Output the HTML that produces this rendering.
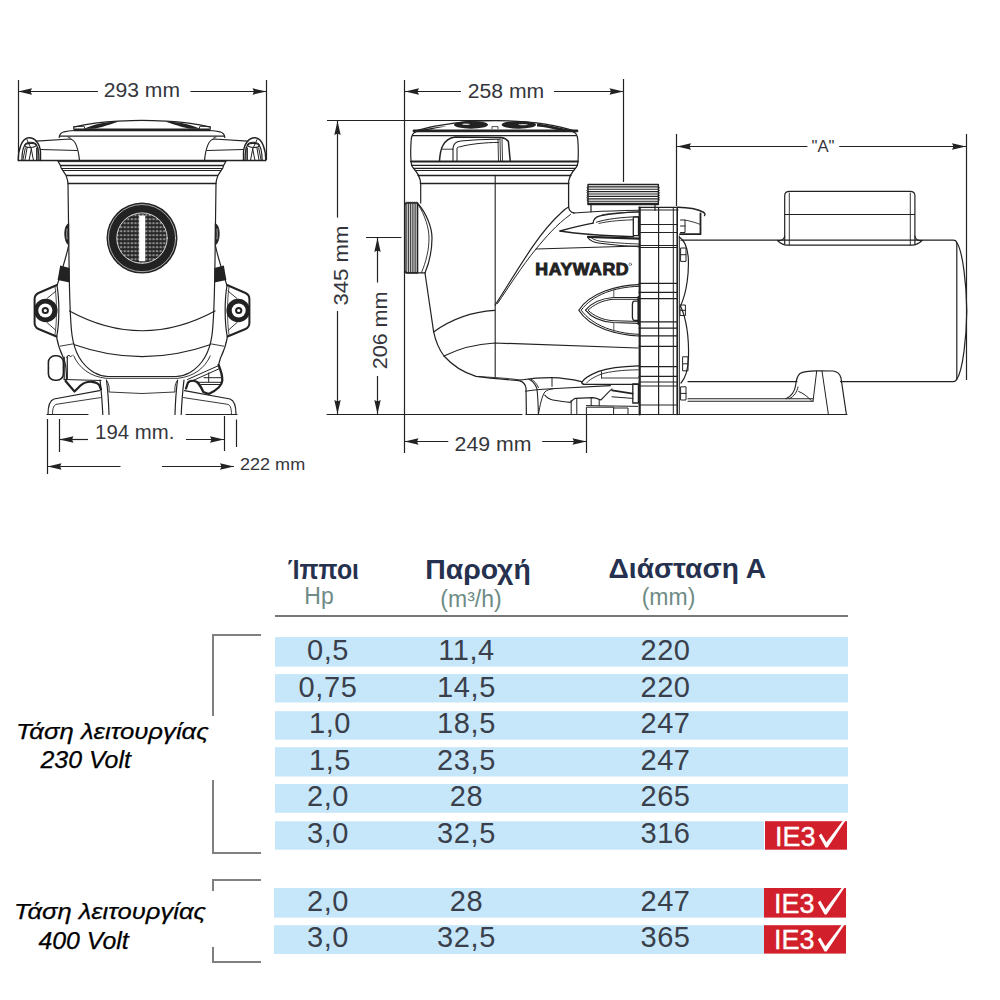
<!DOCTYPE html>
<html><head><meta charset="utf-8">
<style>
html,body{margin:0;padding:0;background:#fff;}
body{width:1000px;height:1000px;overflow:hidden;position:relative;font-family:"Liberation Sans",sans-serif;}
svg{position:absolute;left:0;top:0;}
</style></head>
<body>
<svg width="1000" height="1000" viewBox="0 0 1000 1000" font-family="Liberation Sans, sans-serif">
<defs>
  <!-- arrowheads: tip at 0,0 pointing left -->
  <path id="arL" d="M0,0 L14,-3.2 L12.5,0 L14,3.2 Z" fill="#222"/>
  <pattern id="mesh" x="0.5" y="1.2" width="3.6" height="4" patternUnits="userSpaceOnUse">
    <rect width="3.6" height="4" fill="#262626"/><circle cx="1.8" cy="2" r="0.8" fill="#fff"/><circle cx="0" cy="2" r="0.45" fill="#ddd"/><circle cx="3.6" cy="2" r="0.45" fill="#ddd"/>
  </pattern>
</defs>

<!-- ================= TABLE ================= -->
<g id="table">
  <line x1="275" y1="616" x2="848" y2="616" stroke="#777" stroke-width="2"/>
  <g fill="#c6e7fa">
    <rect x="275" y="637.1" width="573" height="29.5"/>
    <rect x="275" y="674.1" width="573" height="28.4"/>
    <rect x="275" y="711.2" width="573" height="28.5"/>
    <rect x="275" y="747.2" width="573" height="29.3"/>
    <rect x="275" y="784" width="573" height="28.8"/>
    <rect x="275" y="821.3" width="489" height="28.4"/>
    <rect x="274" y="888" width="490" height="29.6"/>
    <rect x="274" y="925.2" width="490" height="28.8"/>
  </g>
  <g fill="#d21f2c">
    <rect x="765" y="821.2" width="82" height="28.5"/>
    <rect x="764" y="888" width="82" height="29.6"/>
    <rect x="764" y="925.2" width="82" height="28.4"/>
  </g>
  <!-- brackets -->
  <g stroke="#808080" stroke-width="2" fill="none">
    <path d="M261,635 H213 V716"/>
    <path d="M213,780 V853 H261"/>
    <path d="M261,880 H213 V891"/>
    <path d="M213,947 V962 H261"/>
  </g>
  <!-- headers -->
  <g fill="#25314e" font-weight="bold" font-size="27">
    <text x="323.4" y="579" text-anchor="middle" textLength="71.2" lengthAdjust="spacingAndGlyphs">Ίπποι</text>
    <text x="478" y="578.5" text-anchor="middle" textLength="105.6" lengthAdjust="spacingAndGlyphs">Παροχή</text>
    <text x="687.3" y="578" text-anchor="middle" textLength="157.5" lengthAdjust="spacingAndGlyphs">Διάσταση  Α</text>
  </g>
  <g fill="#6e8b85" font-size="23">
    <text x="319" y="603.5" text-anchor="middle">Hp</text>
    <text x="471" y="607.3" text-anchor="middle">(m³/h)</text>
    <text x="668.5" y="605" text-anchor="middle">(mm)</text>
  </g>
  <!-- numbers -->
  <g fill="#3a404b" font-size="29" text-anchor="middle" letter-spacing="0.6">
    <text x="328" y="660">0,5</text><text x="466.5" y="660">11,4</text><text x="665.5" y="660">220</text>
    <text x="328" y="696.7">0,75</text><text x="466.5" y="696.7">14,5</text><text x="665.5" y="696.7">220</text>
    <text x="330" y="733">1,0</text><text x="466.5" y="733">18,5</text><text x="665.5" y="733">247</text>
    <text x="330" y="769.8">1,5</text><text x="466.5" y="769.8">23,5</text><text x="665.5" y="769.8">247</text>
    <text x="328" y="805.8">2,0</text><text x="466.5" y="805.8">28</text><text x="665.5" y="805.8">265</text>
    <text x="328" y="842.6">3,0</text><text x="466.5" y="842.6">32,5</text><text x="665.5" y="842.6">316</text>
    <text x="328" y="910.5">2,0</text><text x="466.5" y="910.5">28</text><text x="665.5" y="910.5">247</text>
    <text x="328" y="947">3,0</text><text x="466.5" y="947">32,5</text><text x="665.5" y="947">365</text>
  </g>
  <!-- IE3 badges -->
  <g fill="#fff" font-size="27" stroke="#fff" stroke-width="0.35">
    <text x="775" y="845.5">IE3</text>
    <text x="774" y="912.5">IE3</text>
    <text x="774" y="949">IE3</text>
  </g>
  <g fill="#fff">
    <path id="chk" d="M818.8,835.6 L821.2,833.6 L826.4,842.3 L842.6,821 L845.2,821 L827.6,847.6 L825.6,847.6 Z"/>
    <use href="#chk" transform="translate(-1,67)"/>
    <use href="#chk" transform="translate(-1,104)"/>
  </g>
  <!-- voltage labels -->
  <g fill="#000" font-style="italic" font-size="23" stroke="#000" stroke-width="0.25">
    <text x="16" y="739.2" textLength="192.8" lengthAdjust="spacingAndGlyphs">Τάση λειτουργίας</text>
    <text x="40.5" y="768.3" textLength="90.4" lengthAdjust="spacingAndGlyphs">230 Volt</text>
    <text x="14.1" y="919.2" textLength="191.9" lengthAdjust="spacingAndGlyphs">Τάση λειτουργίας</text>
    <text x="38.4" y="948.8" textLength="90.3" lengthAdjust="spacingAndGlyphs">400 Volt</text>
  </g>
</g>

<!-- ================= DIMENSIONS ================= -->
<g id="dims" stroke="#222" stroke-width="1.2" fill="none">
  <!-- 293 -->
  <line x1="18.5" y1="80" x2="18.5" y2="160"/>
  <line x1="266.5" y1="80" x2="266.5" y2="160"/>
  <line x1="18.5" y1="91.5" x2="98" y2="91.5"/>
  <line x1="190.5" y1="91.5" x2="266.5" y2="91.5"/>
  <!-- 194 / 222 -->
  <line x1="47.5" y1="419" x2="47.5" y2="474"/>
  <line x1="59.5" y1="419" x2="59.5" y2="452"/>
  <line x1="224.5" y1="416" x2="224.5" y2="451"/>
  <line x1="236.5" y1="419.5" x2="236.5" y2="447"/>
  <line x1="59.5" y1="439.5" x2="88" y2="439.5"/>
  <line x1="186" y1="439.5" x2="224.5" y2="439.5"/>
  <line x1="47.5" y1="466.5" x2="120.5" y2="466.5"/>
  <line x1="162" y1="466.5" x2="234" y2="466.5"/>
  <!-- 258 -->
  <line x1="404.5" y1="80" x2="404.5" y2="453"/>
  <line x1="623.5" y1="79" x2="623.5" y2="182"/>
  <line x1="404.5" y1="91.5" x2="461" y2="91.5"/>
  <line x1="554" y1="91.5" x2="623.5" y2="91.5"/>
  <!-- 345 / 206 -->
  <line x1="327" y1="120.5" x2="500" y2="120.5"/>
  <line x1="337.5" y1="120.5" x2="337.5" y2="217.6"/>
  <line x1="337.5" y1="311" x2="337.5" y2="414.5"/>
  <line x1="366" y1="237.5" x2="401.4" y2="237.5"/>
  <line x1="377.5" y1="237.5" x2="377.5" y2="282.5"/>
  <line x1="377.5" y1="376" x2="377.5" y2="414.5"/>
  <line x1="326.6" y1="414.5" x2="522.4" y2="414.5"/>
  <!-- 249 -->
  <line x1="586.5" y1="414.5" x2="586.5" y2="453"/>
  <line x1="404.5" y1="441.5" x2="448.3" y2="441.5"/>
  <line x1="542.2" y1="441.5" x2="586.5" y2="441.5"/>
  <!-- A -->
  <line x1="676.5" y1="134" x2="676.5" y2="206"/>
  <line x1="966.5" y1="134" x2="966.5" y2="380"/>
  <line x1="676.5" y1="146.5" x2="807.4" y2="146.5"/>
  <line x1="839.2" y1="146.5" x2="966.5" y2="146.5"/>
</g>
<g id="arrows">
  <use href="#arL" transform="translate(18,91.5)"/>
  <use href="#arL" transform="translate(266.5,91.5) scale(-1,1)"/>
  <use href="#arL" transform="translate(59.5,439.5)"/>
  <use href="#arL" transform="translate(224,439.5) scale(-1,1)"/>
  <use href="#arL" transform="translate(47.5,466.5)"/>
  <use href="#arL" transform="translate(234,466.5) scale(-1,1)"/>
  <use href="#arL" transform="translate(405,91.5)"/>
  <use href="#arL" transform="translate(623.5,91.5) scale(-1,1)"/>
  <use href="#arL" transform="translate(337.5,121) rotate(90)"/>
  <use href="#arL" transform="translate(337.5,414) rotate(-90)"/>
  <use href="#arL" transform="translate(377.5,238) rotate(90)"/>
  <use href="#arL" transform="translate(377.5,414) rotate(-90)"/>
  <use href="#arL" transform="translate(404.5,441.5)"/>
  <use href="#arL" transform="translate(586.5,441.5) scale(-1,1)"/>
  <use href="#arL" transform="translate(677,146.5)"/>
  <use href="#arL" transform="translate(966,146.5) scale(-1,1)"/>
</g>
<g id="dimtext" fill="#34363c" font-size="19.5">
  <text x="141.9" y="96.9" text-anchor="middle" textLength="76.2" lengthAdjust="spacingAndGlyphs">293 mm</text>
  <text x="506" y="97.6" text-anchor="middle" textLength="76.5" lengthAdjust="spacingAndGlyphs">258 mm</text>
  <text x="134.7" y="439.2" text-anchor="middle" textLength="79.2" lengthAdjust="spacingAndGlyphs">194 mm.</text>
  <text x="493" y="450.5" text-anchor="middle" textLength="76.9" lengthAdjust="spacingAndGlyphs">249 mm</text>
  <text x="240" y="469.8" font-size="15.6" textLength="65.2" lengthAdjust="spacingAndGlyphs">222 mm</text>
  <text x="823" y="152.4" text-anchor="middle" font-size="16" textLength="23" lengthAdjust="spacingAndGlyphs">"A"</text>
  <text transform="translate(348.2,265.5) rotate(-90)" text-anchor="middle" textLength="80.2" lengthAdjust="spacingAndGlyphs">345 mm</text>
  <text transform="translate(386.8,330.4) rotate(-90)" text-anchor="middle" textLength="77.8" lengthAdjust="spacingAndGlyphs">206 mm</text>
</g>

<!-- DRAWINGS to be added -->
<g id="draw" stroke="#222" stroke-width="1.2" fill="none" stroke-linejoin="round" stroke-linecap="round">
<!-- LEFT (front) VIEW, center x=142 -->
<g id="lvHalf">
  <!-- ear -->
  <path d="M18.2,160.5 C18.2,150 21.5,138.5 28.6,137.8 C35,137.3 40,144 40.5,152 L40.5,160.5" stroke-width="1.4"/>
  <path d="M21.8,160.5 C22,152 23,146 26,143.5 C28.5,141.8 33,141.8 35.5,143.5 C38,146 39,152 39,160.5" stroke-width="1.2"/>
  <path d="M24.5,145.5 C26,143 34,142.5 36.5,145 C35,148 26,148.5 24.5,145.5 Z" stroke-width="1.1"/>
  <path d="M22.8,160.5 L25.3,148 M24.9,160.5 L27,148.3 M29,160.5 L31.3,149 M33.5,160.5 L31.3,149 M26.9,139.5 L31.3,149 M36.6,160.5 L36.6,148 M37.9,160.5 L37.9,147.5" stroke-width="1"/>
  <!-- arm -->
  <path d="M36.1,141.2 L70,139 C75,139.5 78,146 79.5,160.5"/>
  <path d="M40.5,149.5 L77,150.5"/>
  <!-- lid -->
  <path d="M59.2,137.5 C59.4,134.5 60.8,132.8 64,131.8 C67,131 70.5,130.6 74,130.5"/>
  <path d="M59.2,136.2 L142,136.2" stroke-linecap="butt"/>
  <path d="M68,137 C70,137.5 71,138.3 71.5,139.3" stroke-width="0.9"/>
  <!-- dome -->
  <path d="M73.5,127.2 C85,124.5 100,122 118,121.2 C128,120.6 136,120.3 142,120.3" stroke-linecap="butt"/>
  <path d="M73.5,129.9 L142,129.9" stroke-width="2.8" stroke-linecap="butt"/>
  <path d="M84,128.8 C90,126 99,123.4 108,122.3 C112,121.9 116,121.6 119,121.6 C114,123.3 108,125.2 102,127 C97,128.3 93,128.8 90,128.8 Z" fill="#222" stroke="none"/>
  <path d="M73.7,128.6 L73.7,126.6 L84,126.2 L85,128.6" stroke-width="1"/>
  <!-- ring -->
  <path d="M18,160.5 L142,160.5" stroke-linecap="butt" stroke-width="1.3"/>
  <path d="M58,161.6 L142,161.6" stroke-linecap="butt" stroke-width="1"/>
  <path d="M58,161.3 L60.5,165.6 L61.2,168.2 L62.8,170.4 L66,175.4 C67,178 67.8,180.5 68,183.4"/>
  <path d="M60.5,165.5 L142,165.5" stroke-linecap="butt" stroke-width="1.3"/>
  <path d="M61.2,168.5 L142,168.5" stroke-linecap="butt" stroke-width="1.2"/>
  <path d="M62.8,170.5 L142,170.5" stroke-linecap="butt" stroke-width="1.1"/>
  <path d="M66,175.5 L142,175.5" stroke-linecap="butt" stroke-width="1.3"/>
  <path d="M67.6,183.5 L142,183.5" stroke-width="1.5" stroke-linecap="butt"/>
  <!-- body edge -->
  <path d="M68,183.4 L69,260 C69.5,300 70,320 72,335 C74,350 80,364 94,372.5 C99,375.3 103.5,376.3 108,376.5 L142,376.5" stroke-linecap="butt"/>
  <path d="M73.6,355.5 C79,368 90,376.5 106,378.3 L142,378.3" stroke-width="0.9" stroke-linecap="butt"/>
  <!-- side bump & flank -->
  <path d="M68.4,223.5 C65.2,225.5 64.6,231 64.8,235 C65,239.5 66.2,243 68.4,245 Z" fill="#222" stroke-width="0.8"/>
  <path d="M67,229 C66.6,232 66.6,236 67,239" stroke="#fff" stroke-width="0.6"/>
  <path d="M68.5,246 C66,258 62,270 57.2,285"/>
  <path d="M60.2,265.5 L69.6,268 L69.6,282.6 L57.6,280 Z" fill="#222" stroke="none"/>
  <!-- bracket -->
  <path d="M57,285 L38.5,293 C35.8,294.3 34.6,296 34.6,299 L34.6,323 C34.6,326 35.8,327.7 38.5,329 L56.5,336.5" stroke-width="2"/>
  <path d="M57,285.5 C59.5,300 59.5,322 56.8,336.2"/>
  <path d="M55,287 C57,300 57,322 55,334.5" stroke-width="0.8"/>
  <path d="M47,298.5 L56,291" stroke-width="0.9"/>
  <path d="M47,322.5 L56,330.5" stroke-width="0.9"/>
  <circle cx="45.8" cy="310.5" r="11.8" fill="#222" stroke="none"/>
  <circle cx="45.3" cy="310.5" r="7" fill="#fff" stroke="none"/>
  <circle cx="45.3" cy="310.5" r="3.6" fill="#222" stroke="none"/>
  <circle cx="45.3" cy="310.5" r="1.6" fill="#fff" stroke="none"/>
  <!-- flank below bracket -->
  <path d="M60,346.2 L73.5,343.8" stroke-width="0.9"/>
  <!-- skirt / legs / feet -->
  <path d="M100,380 C101.5,392 102.3,404 102.8,414.5"/>
  <path d="M106.5,380 C108,392 108.7,404 109,414.5"/>
  <path d="M107,381 C109,384 109.5,388 109,392 L142,393.5" stroke-width="0.9" stroke-linecap="butt"/>
  <path d="M48,414.5 C48,406 49.5,400.5 54,399 L99.5,390.6"/>
  <path d="M52.5,414.5 C52.5,407.5 54,404.5 57,404.2 L100.5,397.6" stroke-width="0.9"/>
  <path d="M47,414.5 L88,414.5"/>
  <!-- dark base brackets -->
</g>
<use href="#lvHalf" transform="translate(284,0) scale(-1,1)"/>
<!-- left-only lower details -->
<path d="M56.5,336.5 C58,346 61,353 63.5,358 C65.5,362 66.5,370 66.5,380"/>
<path d="M65.5,381 L74.5,391.5 L80.5,385.5 C84,382.5 88,381.5 92,381.8 C96,382.2 98.5,383.5 99.5,385.5 L101,389.5" stroke-width="2.2"/>
<path d="M64,379.5 L101,380.5" stroke-width="1.1"/>
<!-- right-only lower details -->
<path d="M227.5,336.5 C226,346 223,353 220.5,358 C219.6,361 219,363 218.6,365"/>
<path d="M218.6,365 C220.6,370 222.6,375 222.3,380.5 C222,385.5 216,390.5 208.7,394 L203.3,392 C201.5,388 200,384.5 197,382 C194,380.5 190,380.5 188,382.5 L186,388.5" stroke-width="2.3"/>
<path d="M187.5,379.5 L217.7,366 M189,382.3 L218.6,369" stroke-width="1"/>
<path d="M204,377.7 L221.5,377.7 M199,382.3 L222,382.3 M201,384.5 L221.5,384.5" stroke-width="1"/>
<path d="M208.7,373 L208.7,382" stroke-width="1"/>
<path d="M186,414.5 L197,414.5"/>
<!-- drain plug (left only) -->
<rect x="48.4" y="355.8" width="15" height="24.5" rx="6.5" ry="6.5" stroke-width="1.6"/>
<path d="M64.2,357 L64.2,379.5 M67.3,356 L67.3,379"/>
<path d="M66.5,357.5 L69,355 L70.5,357 L72.5,355" stroke-width="0.9"/>
<!-- arcs -->
<path d="M69.5,311 Q142,350.5 215,311"/>
<path d="M74.5,344.7 Q142,368.5 210,344.7"/>
<!-- strainer window -->
<circle cx="142" cy="238.1" r="35.5" fill="#222" stroke="none"/>
<circle cx="142" cy="238.1" r="33.6" stroke="#fff" stroke-width="0.6"/>
<circle cx="142" cy="238.1" r="25.2" fill="url(#mesh)" stroke="#fff" stroke-width="0.8"/>
<path d="M139.2,215.8 L145,215.8 L145,261 L139.2,261 Z" fill="#fff" stroke="#fff" stroke-width="0.6" stroke-dasharray="1,1"/>

<!-- SIDE VIEW -->
<!-- lid dome -->
<path d="M417.3,130.4 C440,124 468,120.6 495,120.6 C524,120.6 554,124 576.5,131.5"/>
<path d="M419,130.3 C428,128.5 437,127 447,126 C440,127.6 432,129.2 426,130.3 Z" fill="#222" stroke="none"/>
<ellipse cx="471" cy="124.8" rx="17" ry="3.9" fill="#222" stroke="none"/>
<ellipse cx="518.8" cy="124.8" rx="17.2" ry="3.9" fill="#222" stroke="none"/>
<ellipse cx="466" cy="124.3" rx="4" ry="0.7" fill="#fff" stroke="none" opacity="0.8"/>
<ellipse cx="523" cy="124.6" rx="5" ry="0.7" fill="#fff" stroke="none" opacity="0.8"/>
<path d="M537,123.5 C548,125 560,127.5 574,130.8 L560,130.8 C552,128.5 545,127 537,126.5 Z" fill="#222" stroke="none"/>
<path d="M492,128.6 L492,126.6 L498,126.6 L498,128.6" stroke-width="0.8"/>
<path d="M414,130.9 L577,130.9" stroke-width="2.8"/>
<!-- lid body -->
<path d="M416,131.8 C413,132.4 411.6,134.5 411.2,140 C410.6,148 410.6,156 411,161 C411.3,164.5 412,167 413.5,168.3 L415.4,170.5"/>
<path d="M573,131.8 C576,132.4 577.4,134.5 577.8,140 C578.4,148 578.4,156 578,161 C577.7,164.5 577,167 575.5,168.3 L573.6,170.5"/>
<path d="M412.5,135.6 L576.5,135.6"/>
<path d="M411,161.5 L578,161.5" stroke-width="1.8"/>
<path d="M411.5,165.4 L577.5,165.4" stroke-width="1.2"/>
<path d="M413.5,168.4 L575.5,168.4" stroke-width="1.2"/>
<!-- handle -->
<path d="M439.5,160.6 C440,154 441,149 442.6,146 C445,141 449,137.8 455.2,137 L501.2,137.5 C504.5,138 507,139.5 508.4,141.5 L510.2,160.6" stroke-width="1.5"/>
<path d="M453,160.6 L453,148 C453.5,144 456,141.5 460.6,141 C475,139.5 488,139.2 499.4,139.3" stroke-width="1.1"/>
<path d="M457,160.6 L457,148 C458,147 459,146.9 460,146.8 C470,144 485,142.5 498.5,142.4" stroke-width="1"/>
<path d="M442.4,149.2 L453,149.2" stroke-width="0.9"/>
<path d="M498,139.5 L498.5,160.6 M502,139 L502.5,160.6 M500,138.5 L500.5,160.6" stroke-width="0.9"/>
<!-- neck -->
<path d="M415.4,170.5 L573.6,170.5" stroke-width="1.2"/>
<path d="M415.4,170.5 C417.5,173 419.5,177 420.3,180.3 L420.5,183.5"/>
<path d="M573.6,170.5 C571.5,173 569.5,177 568.8,180.3 L568.6,183.5"/>
<path d="M418,175.5 L571,175.5" stroke-width="1.3"/>
<path d="M420.5,183.5 L568.6,183.5" stroke-width="1.5"/>
<!-- body -->
<path d="M420.7,183.5 L420.7,203"/>
<path d="M495.2,175.2 L495.2,376.4" stroke-width="1.1"/>
<!-- inlet thread -->
<path d="M405,205 C405,203.5 406,203 407.5,203 L417.6,203 L417.6,272.8 L407.5,272.8 C406,272.8 405,272 405,270.5 Z" fill="#fff" stroke-width="1.4"/>
<path d="M406.8,203.5 L406.8,272.5 M408.6,203 L408.6,272.8 M410.4,203 L410.4,272.8 M412.2,203 L412.2,272.8 M414,203 L414,272.8 M415.8,203 L415.8,272.8" stroke-width="1.05" stroke="#333"/>
<path d="M405.5,203 L406.5,201.8 L407.5,203 L408.5,201.8 L409.5,203 L410.5,201.8 L411.5,203 L412.5,201.8 L413.5,203 L414.5,201.8 L415.5,203 L416.5,201.8 L417.5,203 M405.5,272.8 L406.5,274 L407.5,272.8 L408.5,274 L409.5,272.8 L410.5,274 L411.5,272.8 L412.5,274 L413.5,272.8 L414.5,274 L415.5,272.8 L416.5,274 L417.5,272.8" stroke-width="0.8"/>
<path d="M417.8,203.5 C427,214 432,228 432,238 C432,250 429.5,262 425,273"/>
<path d="M418,204.5 C425,215 429,228 429,238 C429,250 426,262 421.5,272.5" stroke-width="0.9"/>
<path d="M417.6,272.8 L425,272.8"/>
<!-- body lower outline -->
<path d="M425,273 L433.6,331.6 C436,343 439.5,350 444,356 C452,365 462,372 476,376.4 C490,378.5 505,379.5 519,380.6 C522.5,381.5 525.4,384 526,388 L526.4,414.5"/>
<path d="M476,376.4 C492,377.5 505,377.8 520.8,380" stroke-width="0.9"/>
<path d="M433.6,332 C450,320 470,312 494.6,310.4"/>
<path d="M444,356 C460,348 478,344 494.6,343 L638,348"/>
<!-- volute diagonals -->
<path d="M495.2,305 C505,290 520,265 532.8,246.4 C542,233 552,221 562,212 C564,210 566,208.3 568.6,207"/>
<path d="M497.5,303.5 C508,288 522,266 536,249 C546,237 556,225 570.5,214.5" stroke-width="1"/>
<path d="M536,249 L638,246" stroke-width="1.1"/>
<path d="M568.6,183.2 L568.6,206.5 C568.8,210 570.5,212.3 574,213" stroke-width="1.3"/>
<!-- outlet thread -->
<path d="M588,184.5 L658.4,184.5 L658.4,204.5 L588,204.5 Z" fill="#fff" stroke-width="1.4"/>
<path d="M588,186.8 L658.4,186.8 M588,189.2 L658.4,189.2 M588,191.6 L658.4,191.6 M588,194 L658.4,194 M588,196.4 L658.4,196.4 M588,198.8 L658.4,198.8 M588,201.2 L658.4,201.2 M588,203.3 L658.4,203.3" stroke-width="1.15"/>
<path d="M588,186.8 L586.8,188 L588,189.2 L586.8,190.4 L588,191.6 L586.8,192.8 L588,194 L586.8,195.2 L588,196.4 L586.8,197.6 L588,198.8 L586.8,200 L588,201.2 M658.4,186.8 L659.6,188 L658.4,189.2 L659.6,190.4 L658.4,191.6 L659.6,192.8 L658.4,194 L659.6,195.2 L658.4,196.4 L659.6,197.6 L658.4,198.8 L659.6,200 L658.4,201.2" stroke-width="0.8"/>
<path d="M591,204.5 L591,211.8 M655,204.5 L655,210.3"/>
<!-- upper bullet -->
<path d="M560,231 C570,228.3 582,225.3 593,223.2" stroke-width="1.3"/>
<path d="M593,223.2 C593.3,219.5 595.5,216.8 600,215.8 C610,213.8 625,212.3 639,211.8" stroke-width="1.3"/>
<path d="M596.5,222.2 C606,219 621,217.3 639,216.6" stroke-width="1"/>
<path d="M599,223.4 C609,221 623,220 639,219.6" stroke-width="0.9"/>
<path d="M602,214.8 C612,213 626,212.2 639,212" stroke-width="0.8"/>
<path d="M560,231 C575,233.5 595,235.6 633.6,236.6" stroke-width="1.3"/>
<path d="M588,236.8 L639,238.6" stroke-width="2.2"/>
<path d="M587.5,237 C589.5,240.5 594,242.5 600,243.3 C615,245.3 628,246.3 639,246.7" stroke-width="1.1"/>
<path d="M591,237.6 C594,240.2 599,241.3 605,241.8 C620,243.2 630,243.7 639,244" stroke-width="0.9"/>
<rect x="633.3" y="217.2" width="5.2" height="18.4" stroke-width="1.3" fill="#fff"/>
<path d="M574,213 L593,211.8 C600,211.3 620,210.5 639,210.2" stroke-width="1.1"/>
<!-- middle bullet -->
<path d="M639,284.6 C625,285 615,287.5 605,291 C593,295.5 584,302 578.8,310.2 C584,318.5 593,325 605,329.5 C615,333 625,335.5 639,336" stroke-width="1.2"/>
<path d="M639,286.3 C625,286.7 615,289.2 605.5,292.6 C594.5,297 586.5,303 581.2,310.2 C586.5,317.4 594.5,323.4 605.5,327.8 C615,331.3 625,333.8 639,334.3" stroke-width="1"/>
<path d="M639,297.5 L613,297.5 C601,298.5 591,303.5 585.5,310.2 C591,317 601,321.8 613,322.5 L639,323.3" stroke-width="1.2"/>
<path d="M639,299.3 L613,299.3 C602,300.2 593.5,305 588,310.2 C593.5,315.5 602,320 613,320.7 L639,321.5" stroke-width="1"/>
<path d="M613.8,288.5 L613.8,297.5 M613.8,322.5 L613.8,332" stroke-width="1" stroke="#555"/>
<path d="M638,301.2 L634,301.2 C632.8,301.5 632.4,303 632.4,305 L632.4,316.5 C632.4,318.5 632.8,320 634,320.3 L638,320.3" stroke-width="1.3" fill="#fff"/>
<path d="M638.5,297 L638.5,324" stroke-width="2.2"/>
<!-- lower bullet -->
<path d="M638.4,365.8 C620,366.3 608,368 598,371.7 C590,375 584,378.5 581.7,382.5 C582,384 583,384.3 585,384.3 L638.4,384.3" stroke-width="1.3"/>
<path d="M638.4,369.8 C622,370 610,371.5 601.5,374 C594,377 589,380 586.5,383" stroke-width="0.9"/>
<path d="M601.5,371.7 L601.5,378 M601.5,378 L638.4,378" stroke-width="0.9"/>
<rect x="632.8" y="384" width="5.6" height="19" stroke-width="1.3"/>
<!-- foot area under volute -->
<path d="M528.8,379.2 C532,380.5 535,384 536.8,388 C537.8,395 538.2,405 538.4,414.4" stroke-width="1.1"/>
<path d="M531,379 C534,380.5 536.5,383.5 538.5,387.5" stroke-width="0.9"/>
<path d="M520.8,380 C530,378.5 542,377.6 551.2,377.6 C562,377.8 572,379.3 581.6,381.6" stroke-width="1.1"/>
<path d="M552,378.4 L552,386.4" stroke-width="1"/>
<path d="M525.6,391.2 C535,389.8 545,389 556,388.5 L610.4,385.6" stroke-width="1.1"/>
<path d="M538.4,414.4 C540,405 542,396 544.8,392 C547,390 550,389 552.8,388.8" stroke-width="1"/>
<path d="M544.8,395.2 C547,398 550,399.5 552.8,400 C560,401.2 566,402 570.4,402.4 C572.5,400 573.5,398.8 575.2,398.4 L592.8,397.6 C596,398 598.5,399 600.8,400 C602.5,398.5 604,397 605.6,395.2 C608,392.5 610,390.5 612,388.8" stroke-width="1.1"/>
<path d="M571.2,400.5 L571.2,414.4 M576.8,398.5 L576.8,414.4 M591.2,397.6 L591.2,405.6 M599.2,399.5 L599.2,405.6" stroke-width="1"/>
<path d="M586.4,414.4 L586.4,407.2 L613.6,407.2 L613.6,414.4 M613.6,408 L628,408 L628,414.4" stroke-width="1"/>
<path d="M612,390.4 L632.8,393.6" stroke-width="1.6"/>
<path d="M612,396.8 L632.8,398.4" stroke-width="1"/>
<path d="M586.4,405.6 L637.6,406.4" stroke-width="1"/>
<!-- flange -->
<path d="M639.7,207.5 L639.7,414.5" stroke-width="2.2"/>
<path d="M658.6,207.5 L658.6,414.5" stroke-width="1.2"/>
<path d="M673.3,207.5 L673.3,414.5" stroke-width="1.0"/>
<path d="M677.2,207.5 L677.2,414.5" stroke-width="1.6"/>
<path d="M639,207.3 L678,207.3 M639,210 L678,210"/>
<path d="M639,224.5 L677,224.5 M639,232.5 L677,232.5 M639,245.5 L677,245.5 M639,247.5 L677,247.5"/>
<path d="M639,283.3 L677,283.3 M639,292.4 L677,292.4 M639,298.7 L677,298.7 M639,321.8 L677,321.8 M639,328.1 L677,328.1 M639,335.8 L677,335.8 M639,346.3 L677,346.3"/>
<path d="M639,366.6 L677,366.6 M639,376.4 L677,376.4 M639,382 L677,382 M639,386 L677,386 M639,405 L677,405"/>
<!-- right clip -->
<path d="M678,207.3 C688,207.5 697,209 703,212 C705,213 705.5,214.5 704.5,215.5" stroke-width="1.4"/>
<path d="M700.5,213.5 L700.5,234.2 L680,234.2" stroke-width="1.8"/>
<path d="M680.5,220 L685,220 L685,232.5 L680.5,232.5 M680.5,226 L685,226" stroke-width="1"/>
<path d="M685,220 C692,221.5 697,223 700.5,224.5" stroke-width="0.9"/>
<path d="M679.3,236 L679.3,414.5" stroke-width="1"/>
<path d="M679.3,237 C684,240 687.5,248 688.3,258 C689,272 687,292 680.5,306" />
<path d="M680.5,306 C686,318 689,338 688.5,358 C688,370 685.5,378 681,383" />
<path d="M680.4,305 L685.4,305 L685.4,315.5 L680.4,315.5 Z M680.4,310.3 L685.4,310.3" stroke-width="1"/>
<path d="M683,356.8 L688,356.8 L688,370.8 L683,370.8 Z M683,363.8 L688,363.8" stroke-width="1"/>
<path d="M681,386.8 L686,386.8 L686,400 L681,400 Z M681,393.4 L686,393.4" stroke-width="1"/>
<path d="M681,248 L686,248 L686,261.4 L681,261.4 Z M681,254.7 L686,254.7" stroke-width="1"/>
<!-- motor -->
<path d="M681,240.2 L953,240.2 C955.5,240.2 956.8,241.5 956.8,244 L956.8,377.5 C956.8,380 955.5,381.6 953,381.6 L840.5,381.6 M797,381.6 L688,381.6"/>
<path d="M956.8,242.5 C963,252 966.5,285 966.8,310.9 C966.5,337 963,370 956.8,379.5"/>
<!-- junction box -->
<path d="M784.7,244 L784.7,195.5 C784.7,192.6 786.5,191.3 789.5,191.3 L910,191.3 C913,191.3 914.9,192.6 914.9,195.5 L914.9,244"/>
<path d="M785,214.5 L914.6,214.5"/>
<path d="M789.3,193 L789.3,245 M910.3,193 L910.3,245" stroke-width="0.9"/>
<path d="M777.5,240.5 C781,241 784,240 784.7,236 M922,240.5 C918.5,241 915.5,240 914.9,236"/>
<path d="M777.5,240.5 C780,243 783,245 787,245.2 L912,245.2 C916.5,245 919.5,243 922,240.5"/>
<!-- motor base -->
<path d="M786,398.7 C792,396 794.5,392 795.5,386 C796,381 797,376 800,373.5 C803,371.5 808,370.8 816.7,370.8 L833,371 C837,371.5 840,374 841,378 L846.4,414.5"/>
<path d="M789.5,398.7 C794.5,396 797,392 798,387" stroke-width="1"/>
<path d="M798.7,391.5 C803,393 808,397 811.3,400.5" stroke-width="1"/>
<path d="M816.7,371 L813,401.4 M822,371 L828.4,414.5" stroke-width="1"/>
<path d="M688,398.7 L813,398.7 M688,401.2 L813,401.2" stroke-width="1.1"/>
<path d="M526,414.5 L847,414.5"/>
<!-- HAYWARD -->
<text transform="translate(535.3,275.2) scale(1.08,1)" font-size="16.4" font-weight="bold" fill="#222" stroke="#222" stroke-width="0.9" stroke-linejoin="miter" letter-spacing="0.55">HAYWARD</text>
<circle cx="630.3" cy="264.3" r="1.3" stroke-width="0.5"/>

</g>
</svg>
</body></html>
